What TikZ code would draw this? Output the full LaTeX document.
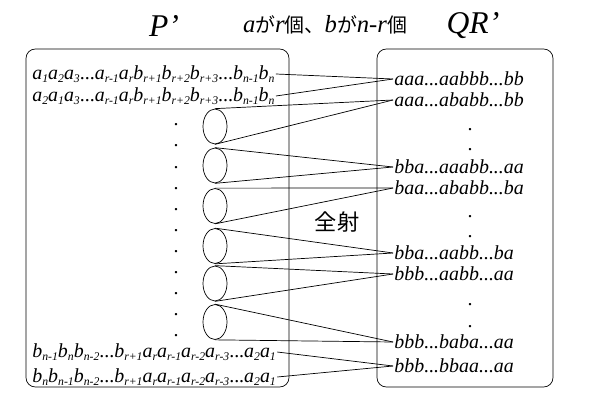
\documentclass[tikz,border=0pt]{standalone}
\usepackage{fontspec}
\setmainfont{Liberation Serif}
\newfontfamily\jpfont{Noto Sans CJK JP}
\usetikzlibrary{shapes.geometric}

% letter with a small index
\newcommand{\ltr}[2]{\textit{#1}\raisebox{-0.3ex}{\fontsize{10}{10}\selectfont\textit{#2}}}

\tikzset{
  setbox/.style={draw, rounded corners=8pt, line width=0.6pt},
  pword/.style={anchor=west, inner sep=1pt, font=\fontsize{17}{20}\selectfont},
  qword/.style={anchor=west, inner sep=1pt, font=\fontsize{17}{20}\selectfont\itshape},
  fibre/.style={draw, ellipse, minimum width=0.72cm, minimum height=1.05cm,
                inner sep=0pt, line width=0.6pt},
  dotmark/.style={inner sep=0pt, font=\fontsize{17}{18}\selectfont},
  map/.style={line width=0.6pt},
}

\begin{document}
\begin{tikzpicture}[x=0.03cm, y=-0.03cm]
  \useasboundingbox (0,0) rectangle (600,400);

  % Titles
  \node[font=\fontsize{27}{30}\selectfont\itshape] (tp) at (164,26) {P’};
  \node[font=\fontsize{21}{24}\selectfont] (tcount) at (325,25)
    {\textit{a}{\jpfont\fontsize{17}{20}\selectfont が}\textit{r}{\jpfont\fontsize{17}{20}\selectfont 個、}%
     \textit{b}{\jpfont\fontsize{17}{20}\selectfont が}\textit{n-r}{\jpfont\fontsize{17}{20}\selectfont 個}};
  \node[font=\fontsize{27}{30}\selectfont\itshape] (tqr) at (473,26) {QR’};

  % The two sets
  \draw[setbox] (26,49) rectangle (289,387);
  \draw[setbox] (377,49) rectangle (553,387);
  \node[font=\fontsize{19}{22}\selectfont\jpfont] (onto) at (337,222) {全射};

  % Words of P'
  \node[pword] (pl1) at (31,74)
    {\ltr{a}{1}\ltr{a}{2}\ltr{a}{3}...\ltr{a}{r-1}\ltr{a}{r}\ltr{b}{r+1}\ltr{b}{r+2}\ltr{b}{r+3}...\ltr{b}{n-1}\ltr{b}{n}};
  \node[pword] (pl2) at (31,96)
    {\ltr{a}{2}\ltr{a}{1}\ltr{a}{3}...\ltr{a}{r-1}\ltr{a}{r}\ltr{b}{r+1}\ltr{b}{r+2}\ltr{b}{r+3}...\ltr{b}{n-1}\ltr{b}{n}};
  \node[pword] (pl3) at (31,352)
    {\ltr{b}{n-1}\ltr{b}{n}\ltr{b}{n-2}...\ltr{b}{r+1}\ltr{a}{r}\ltr{a}{r-1}\ltr{a}{r-2}\ltr{a}{r-3}...\ltr{a}{2}\ltr{a}{1}};
  \node[pword] (pl4) at (31,377)
    {\ltr{b}{n}\ltr{b}{n-1}\ltr{b}{n-2}...\ltr{b}{r+1}\ltr{a}{r}\ltr{a}{r-1}\ltr{a}{r-2}\ltr{a}{r-3}...\ltr{a}{2}\ltr{a}{1}};

  % Vertical dots in P'
  \foreach \i in {0,...,10}
    \node[dotmark] (pd\i) at (176,125+21.1*\i) {.};

  % Classes of P'
  \foreach \y [count=\k] in {126.5,165.5,206,246,283.5,322}
    \node[fibre] (e\k) at (215,\y) {};

  % Words of QR'
  \node[qword] (qr1) at (393,79) {aaa...aabbb...bb};
  \node[qword] (qr2) at (393,100) {aaa...ababb...bb};
  \node[qword] (qr3) at (393,167) {bba...aaabb...aa};
  \node[qword] (qr4) at (393,188) {baa...ababb...ba};
  \node[qword] (qr5) at (393,253) {bba...aabb...ba};
  \node[qword] (qr6) at (393,274) {bbb...aabb...aa};
  \node[qword] (qr7) at (393,342) {bbb...baba...aa};
  \node[qword] (qr8) at (393,366) {bbb...bbaa...aa};

  % Vertical dots in QR'
  \foreach \y [count=\k] in {130,150,217,237,305,327}
    \node[dotmark] (qd\k) at (470,\y) {.};

  % Mapping
  \draw[map] (pl1.east) -- (qr1.west);
  \draw[map] (pl2.east) -- (qr1.west);
  \foreach \k in {1,...,6} {
    \pgfmathtruncatemacro{\t}{\k+1}
    \draw[map] (e\k.north) -- (qr\t.west);
    \draw[map] (e\k.south) -- (qr\t.west);
  }
  \draw[map] (pl3.east) -- (qr8.west);
  \draw[map] (pl4.east) -- (qr8.west);
\end{tikzpicture}
\end{document}
